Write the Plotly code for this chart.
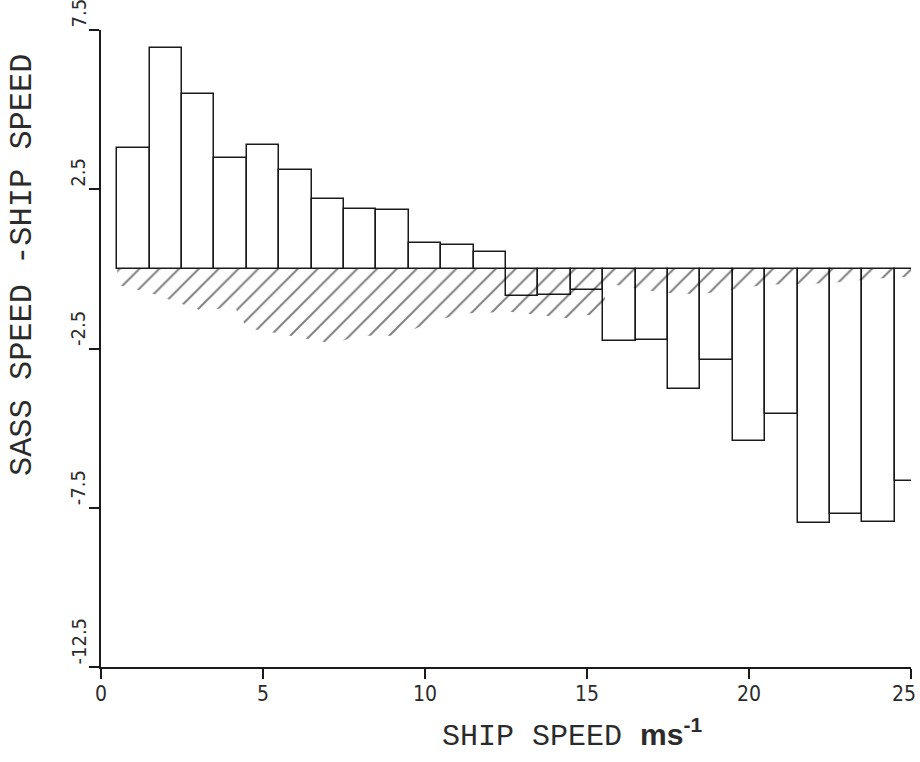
import plotly.graph_objects as go

# Bar data: ship speed bin centres (m/s) and mean SASS-ship speed difference
ship_speed = [1, 2, 3, 4, 5, 6, 7, 8, 9, 10, 11, 12, 13,
              14, 15, 16, 17, 18, 19, 20, 21, 22, 23, 24, 25]
speed_diff = [3.80, 6.94, 5.49, 3.49, 3.89, 3.11, 2.20, 1.88, 1.85, 0.82,
              0.75, 0.53, -0.85, -0.82, -0.66, -2.26, -2.23, -3.77, -2.86,
              -5.40, -4.55, -7.98, -7.69, -7.94, -6.66]

# Hatched band below the zero line (lower edge)
hatch_x = [0.5, 1.5, 2.5, 3.2, 4.1, 4.5, 5.3, 6.4, 7.2, 7.9, 9.2, 10.2,
           11.2, 12.6, 14.4, 15.0, 15.5, 15.6, 17.3, 18.5, 20.5, 22.4, 24.0, 25.0]
hatch_y = [-0.5, -0.75, -1.1, -1.35, -1.15, -1.85, -2.0, -2.2, -2.35, -2.1,
           -2.1, -1.65, -1.4, -1.35, -1.55, -1.45, -1.45, -0.45, -0.75, -0.8,
           -0.5, -0.45, -0.3, -0.25]

x_ticks = [0, 5, 10, 15, 20, 25]
x_tick_text = ["0", "5", "10", "15", "20", "25"]
y_ticks = [-12.5, -7.5, -2.5, 2.5, 7.5]
y_tick_text = ["-12.5", "-7.5", "-2.5", "2.5", "7.5"]

MONO = "Liberation Mono, DejaVu Sans Mono, monospace"
NARROW = "Liberation Sans Narrow, DejaVu Sans Condensed, sans-serif"
INK = "#1a1a1a"
TXT = "#2b2b2b"

fig = go.Figure()

fig.add_trace(go.Scatter(
    x=hatch_x, y=hatch_y, mode="lines", fill="tozeroy",
    line=dict(width=0, color="rgba(0,0,0,0)"),
    fillcolor="rgba(0,0,0,0)",
    fillpattern=dict(shape="/", fgcolor="black", bgcolor="rgba(0,0,0,0)",
                     size=14, solidity=0.14),
    hoverinfo="skip", showlegend=False,
))

fig.add_trace(go.Bar(
    x=ship_speed, y=speed_diff, width=1.0, cliponaxis=False,
    marker=dict(color="rgba(0,0,0,0)", line=dict(color=INK, width=1.5)),
    showlegend=False,
))

annotations = [
    dict(text="SHIP SPEED <span style='font-family:Liberation Sans, Arial, sans-serif;"
              "font-weight:bold'>ms<sup>-1</sup></span>",
         xref="paper", yref="paper", x=0.4185, y=-0.105,
         xanchor="left", yanchor="middle", showarrow=False,
         font=dict(family=MONO, size=30, color=TXT)),
    dict(text="SASS SPEED -SHIP SPEED",
         xref="paper", yref="paper", x=-0.0975, y=0.631,
         xanchor="center", yanchor="middle", textangle=-90, showarrow=False,
         font=dict(family=MONO, size=32, color=TXT)),
]
# y tick labels: rotated, starting at the tick and reading upward
for v, t in zip(y_ticks, y_tick_text):
    annotations.append(dict(
        text=t, xref="paper", yref="y", x=0, y=v, xshift=-9,
        xanchor="right", yanchor="bottom", textangle=-90, showarrow=False,
        font=dict(family=NARROW, size=20, color=TXT)))
# x tick labels (last one kept inside the page edge)
for i, (v, t) in enumerate(zip(x_ticks, x_tick_text)):
    last = i == len(x_ticks) - 1
    annotations.append(dict(
        text=t, xref="x", yref="paper", x=v, y=0, yshift=-13,
        xshift=7 if last else 0,
        xanchor="right" if last else "center", yanchor="top", showarrow=False,
        font=dict(family=NARROW, size=21, color=TXT)))

fig.update_layout(
    width=920, height=762,
    margin=dict(l=101, r=9, t=30, b=95, autoexpand=False),
    paper_bgcolor="white", plot_bgcolor="white",
    font=dict(family=MONO, color=INK),
    bargap=0,
    annotations=annotations,
)

fig.update_xaxes(
    range=[0, 25], tickvals=x_ticks, showticklabels=False, ticks="outside",
    ticklen=10, tickwidth=1.5, tickcolor=INK, showline=True, linecolor=INK,
    linewidth=1.5, showgrid=False, zeroline=False, automargin=False,
)
fig.update_yaxes(
    range=[-12.5, 7.5], tickvals=y_ticks, showticklabels=False,
    ticks="outside", ticklen=10, tickwidth=1.5, tickcolor=INK,
    showline=True, linecolor=INK, linewidth=1.5, automargin=False,
    showgrid=False, zeroline=False,
)

fig.write_html("out.html")
